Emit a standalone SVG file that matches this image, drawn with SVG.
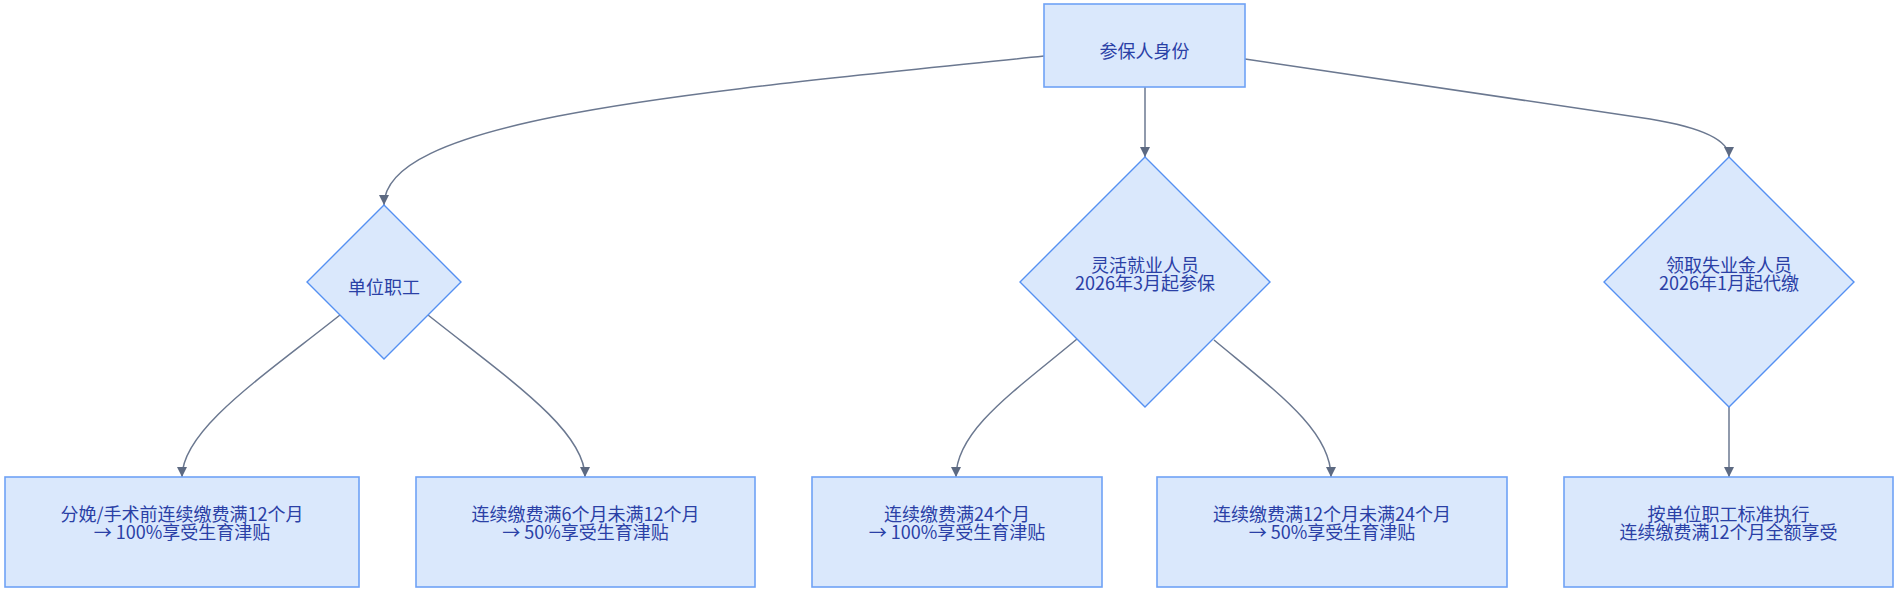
<svg xmlns="http://www.w3.org/2000/svg" width="1898" height="597" viewBox="0 0 1898 597">
<defs>
<style>
.box{fill:#dae8fc;stroke:#6fa2f6;stroke-width:1.6}
.dia{fill:#dae8fc;stroke:#5590f2;stroke-width:1.4}
.lbl{font-family:"Noto Sans CJK SC","Noto Sans",sans-serif;font-size:18px;fill:#2a40a6;text-anchor:middle}
.edge{fill:none;stroke:#6b7890;stroke-width:1.5;marker-end:url(#arr)}
</style>
<marker id="arr" markerUnits="userSpaceOnUse" markerWidth="10" markerHeight="10" refX="10" refY="5" orient="auto">
<path d="M0,0 L10,5 L0,10 z" fill="#5d6a82"/>
</marker>
</defs>
<rect width="1898" height="597" fill="#ffffff"/>
<g id="connectors">
<path class="edge" d="M1044,56 C700,92 384,117 384,205"/>
<path class="edge" d="M1145,87 L1145,157"/>
<path class="edge" d="M1245,59 L1650,119 Q1729,132 1729,157"/>
<path class="edge" d="M340,315 C262,377 182,430 182,477"/>
<path class="edge" d="M428,315 C506,377 585,430 585,477"/>
<path class="edge" d="M1077,339 C1016,390 956,430 956,477"/>
<path class="edge" d="M1214,340 C1274,390 1331,430 1331,477"/>
<path class="edge" d="M1729,407 L1729,477"/>
</g>
<g id="root">
<rect class="box" x="1044" y="4" width="201" height="83"/>
<text class="lbl" x="1144.5" y="58">参保人身份</text>
</g>
<g id="employee">
<polygon class="dia" points="384,205 461,282 384,359 307,282"/>
<text class="lbl" x="384" y="294">单位职工</text>
</g>
<g id="flexible">
<polygon class="dia" points="1145,157 1270,282 1145,407 1020,282"/>
<text class="lbl" x="1145" y="271.5">灵活就业人员</text>
<text class="lbl" x="1145" y="289.5">2026年3月起参保</text>
</g>
<g id="unemployed">
<polygon class="dia" points="1729,157 1854,282 1729,407 1604,282"/>
<text class="lbl" x="1729" y="271.5">领取失业金人员</text>
<text class="lbl" x="1729" y="289.5">2026年1月起代缴</text>
</g>
<g id="emp-full">
<rect class="box" x="5" y="477" width="354" height="110"/>
<text class="lbl" x="182" y="521">分娩/手术前连续缴费满12个月</text>
<text class="lbl" x="182" y="539">→ 100%享受生育津贴</text>
</g>
<g id="emp-half">
<rect class="box" x="416" y="477" width="339" height="110"/>
<text class="lbl" x="585.5" y="521">连续缴费满6个月未满12个月</text>
<text class="lbl" x="585.5" y="539">→ 50%享受生育津贴</text>
</g>
<g id="flex-full">
<rect class="box" x="812" y="477" width="290" height="110"/>
<text class="lbl" x="957" y="521">连续缴费满24个月</text>
<text class="lbl" x="957" y="539">→ 100%享受生育津贴</text>
</g>
<g id="flex-half">
<rect class="box" x="1157" y="477" width="350" height="110"/>
<text class="lbl" x="1332" y="521">连续缴费满12个月未满24个月</text>
<text class="lbl" x="1332" y="539">→ 50%享受生育津贴</text>
</g>
<g id="unemp-result">
<rect class="box" x="1564" y="477" width="329" height="110"/>
<text class="lbl" x="1728.5" y="521">按单位职工标准执行</text>
<text class="lbl" x="1728.5" y="539">连续缴费满12个月全额享受</text>
</g>
</svg>
